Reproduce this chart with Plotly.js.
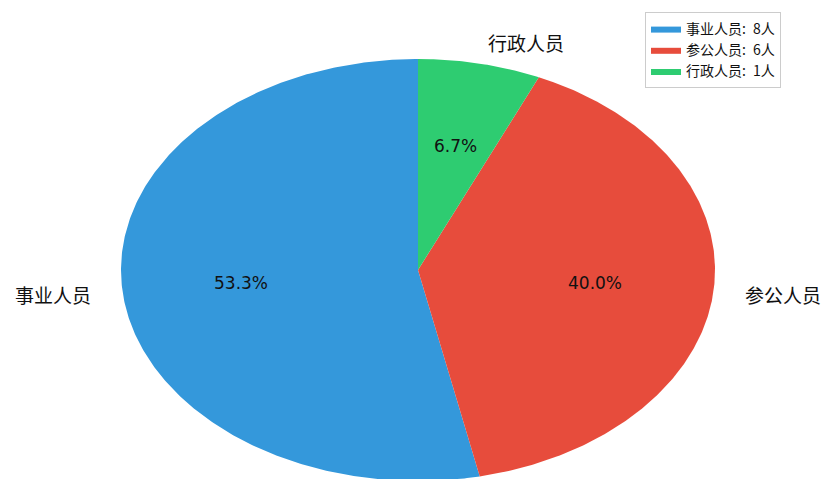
<!DOCTYPE html>
<html>
<head>
<meta charset="utf-8">
<script src="https://cdn.plot.ly/plotly-3.0.1.min.js"></script>
<style>html,body{margin:0;padding:0;background:#fff;}#chart{width:825px;height:479px;}</style>
</head>
<body>
<div id="chart"></div>
<script>
const categories = ['事业人员', '参公人员', '行政人员'];
const counts = [8, 6, 1];
const colors = ['#3498db', '#e74c3c', '#2ecc71'];

const total = counts.reduce((a, b) => a + b, 0);
const traces = [];
const annotations = [];
const cjk = '"Noto Sans CJK SC", "Noto Sans", sans-serif';
let start = 90; // degrees, counterclockwise like matplotlib startangle=90
counts.forEach((v, i) => {
  const sweep = v / total * 360;
  const end = start + sweep;
  const xs = [0], ys = [0];
  const n = Math.max(4, Math.ceil(sweep * 2));
  for (let k = 0; k <= n; k++) {
    const a = (start + sweep * k / n) * Math.PI / 180;
    xs.push(Math.cos(a)); ys.push(Math.sin(a));
  }
  xs.push(0); ys.push(0);
  traces.push({
    type: 'scatter', mode: 'lines', x: xs, y: ys, fill: 'toself',
    fillcolor: colors[i], line: {width: 0, color: colors[i]},
    name: categories[i] + ':\u2002' + v + '人', hoverinfo: 'skip'
  });
  const mid = (start + sweep / 2) * Math.PI / 180;
  const cx = Math.cos(mid), cy = Math.sin(mid);
  annotations.push({
    x: 0.6 * cx, y: 0.6 * cy, xref: 'x', yref: 'y', showarrow: false,
    text: (v / total * 100).toFixed(1) + '%',
    font: {family: '"DejaVu Sans", sans-serif', size: 17, color: '#111'},
    xanchor: 'center', yanchor: 'middle'
  });
  annotations.push({
    x: 1.1 * cx, y: 1.1 * cy, xref: 'x', yref: 'y', showarrow: false,
    text: categories[i],
    font: {family: cjk, size: 19, color: '#111'},
    xanchor: cx >= 0 ? 'left' : 'right', yanchor: 'middle'
  });
  start = end;
});

const W = 825, H = 479;
const cxp = 418, cyp = 270, rx = 297, ry = 211;
const layout = {
  width: W, height: H,
  margin: {l: 0, r: 0, t: 0, b: 0},
  paper_bgcolor: '#fff', plot_bgcolor: '#fff',
  xaxis: {range: [-cxp / rx, (W - cxp) / rx], visible: false, fixedrange: true},
  yaxis: {range: [-(H - cyp) / ry, cyp / ry], visible: false, fixedrange: true},
  showlegend: true,
  legend: {
    x: 781 / W, y: 1 - 12 / H, xanchor: 'right', yanchor: 'top',
    bgcolor: '#fff', bordercolor: '#cccccc', borderwidth: 1,
    font: {family: cjk, size: 14, color: '#111'}
  },
  annotations: annotations
};
Plotly.newPlot('chart', traces, layout, {displayModeBar: false, staticPlot: true});
</script>
</body>
</html>
